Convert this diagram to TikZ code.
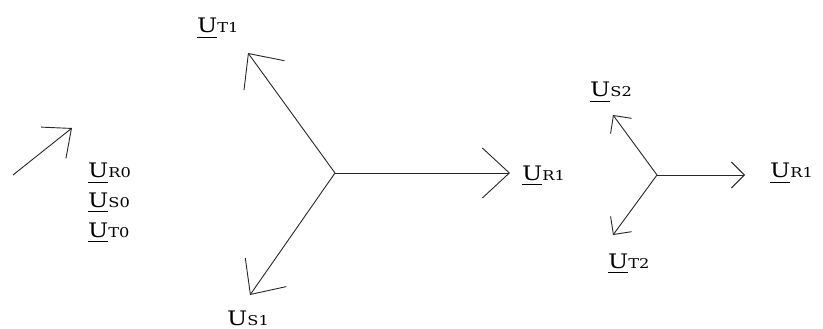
\documentclass[tikz,border=0pt]{standalone}
\usepackage{graphicx}
\usepackage{fontspec}
\setmainfont{DejaVu Serif}
\usetikzlibrary{arrows.meta}
\tikzset{
  ar/.style={-{Straight Barb[#1]},line width=0.9pt,black!85},
  ar/.default={length=27pt,width=50pt},
  lbl/.style={inner sep=0pt,anchor=base west,font=\fontsize{20}{22}\selectfont}
}
\newcommand{\usub}[1]{{\fontsize{13.5}{16}\selectfont #1}}
\newcommand{\uvec}[1]{\scalebox{1.2}[1]{\setbox0\hbox{U}\rlap{\rule[-5pt]{\wd0}{1pt}}\box0\usub{#1}}}
\newcommand{\uplain}[1]{\scalebox{1.2}[1]{U\usub{#1}}}

\begin{document}
\begin{tikzpicture}[x=1pt,y=-1pt]
\useasboundingbox (0,0) rectangle (823,329);
% zero sequence
\coordinate (z0) at (13,175);
\coordinate (z1) at (72,128);
\draw[ar={length=23pt,width=40pt}] (z0)--(z1);
\node[lbl] (ur0) at (88,178) {\uvec{R0}};
\node[lbl] (us0) at (88,207) {\uvec{S0}};
\node[lbl] (ut0) at (88,237) {\uvec{T0}};
% positive sequence
\coordinate (o1) at (335,173);
\coordinate (r1) at (510,173);
\coordinate (t1) at (248,53);
\coordinate (s1) at (250,295);
\draw[ar] (o1)--(r1);
\draw[ar] (o1)--(t1);
\draw[ar] (o1)--(s1);
\node[lbl] (ur1) at (522,180) {\uvec{R1}};
\node[lbl] (ut1) at (197,33) {\uvec{T1}};
\node[lbl] (us1) at (227,325) {\uplain{S1}};
% negative sequence
\coordinate (o2) at (657,175);
\coordinate (r2) at (745,175);
\coordinate (s2) at (613,115);
\coordinate (t2) at (613,235);
\draw[ar={length=13pt,width=26pt}] (o2)--(r2);
\draw[ar={length=13pt,width=26pt}] (o2)--(s2);
\draw[ar={length=13pt,width=26pt}] (o2)--(t2);
\node[lbl] (ur2) at (770,178) {\uvec{R1}};
\node[lbl] (us2) at (590,97) {\uvec{S2}};
\node[lbl] (ut2) at (608,268) {\uvec{T2}};
\end{tikzpicture}
\end{document}
